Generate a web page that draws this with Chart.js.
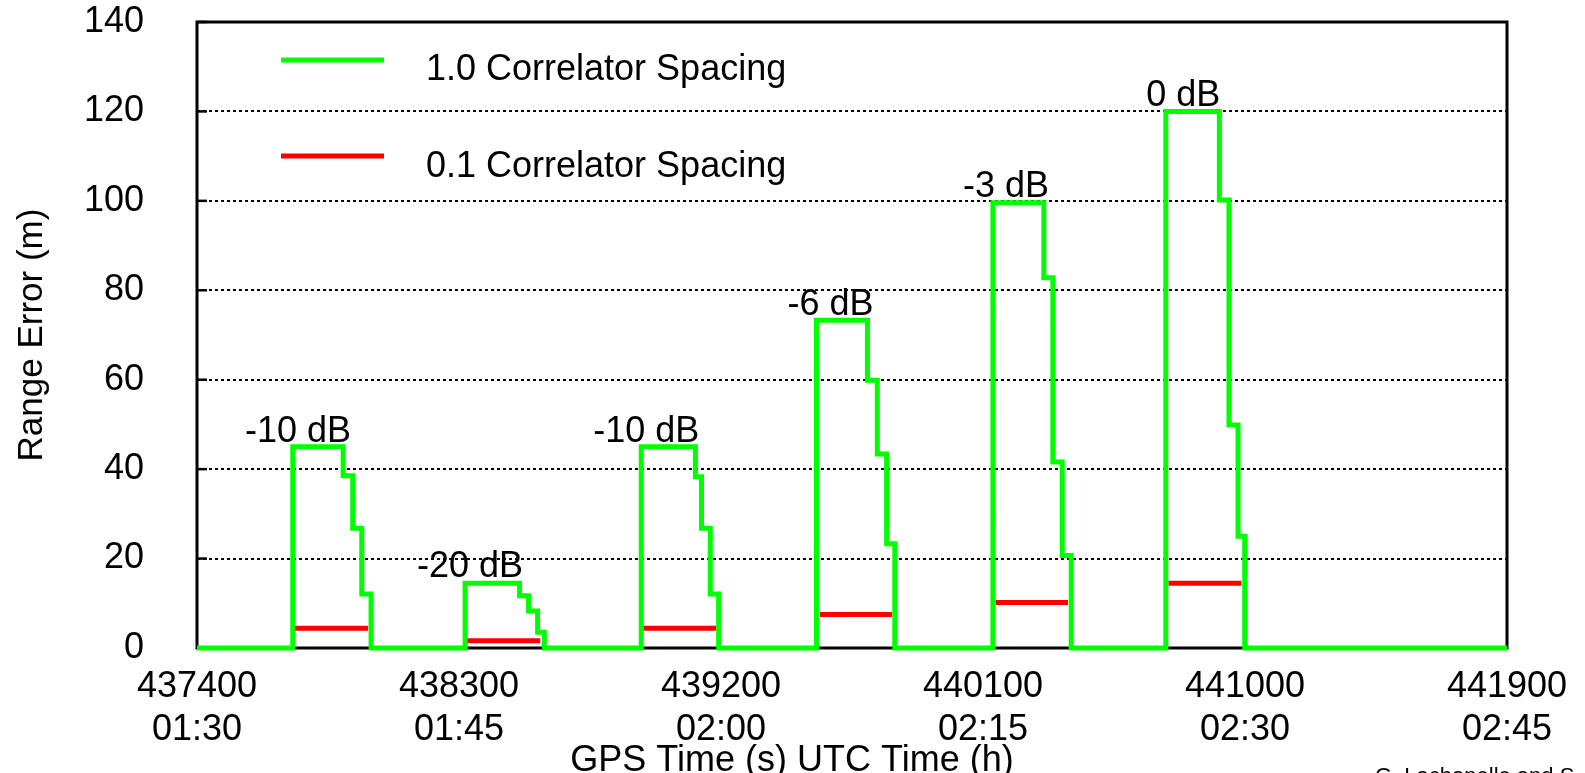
<!DOCTYPE html>
<html>
<head>
<meta charset="utf-8">
<style>
  html, body { margin: 0; padding: 0; background: #fff; }
</style>
</head>
<body>
<canvas id="myChart" width="1585" height="773"></canvas>
<script src="https://cdn.jsdelivr.net/npm/chart.js@4.4.0/dist/chart.umd.min.js"></script>
<script>
  // x axis: GPS seconds, with UTC time as second label line
  const xTicks = [437400, 438300, 439200, 440100, 441000, 441900];
  const utcTicks = ["01:30", "01:45", "02:00", "02:15", "02:30", "02:45"];

  // 1.0 chip spacing: each point is where a new level starts
  const wideTime = [
    437400,
    437729, 437902, 437935, 437966, 437998,
    438321, 438508, 438539, 438570, 438593,
    438926, 439112, 439133, 439163, 439192,
    439528, 439703, 439737, 439769, 439797,
    440134, 440309, 440340, 440372, 440403,
    440728, 440912, 440945, 440976, 440999,
    441900
  ];
  const wideError = [
    0,
    45, 38.5, 26.8, 12.1, 0,
    14.5, 11.7, 8.3, 3.5, 0,
    45, 38.3, 26.8, 12.1, 0,
    73.3, 59.9, 43.4, 23.3, 0,
    99.6, 82.8, 41.6, 20.7, 0,
    120, 100.2, 49.9, 25, 0,
    0
  ];

  // 0.1 chip spacing: flat segments
  const narrowStart = [437730, 438314, 438933, 439539, 440143, 440737];
  const narrowEnd = [437988, 438579, 439184, 439788, 440392, 440988];
  const narrowError = [4.4, 1.6, 4.4, 7.5, 10.2, 14.5];

  // multipath power labels
  const cnoLabels = ["-10 dB", "-20 dB", "-10 dB", "-6 dB", "-3 dB", "0 dB"];
  const cnoTime = [437747, 438338, 438943, 439576, 440179, 440788];
  const cnoError = [46.1, 15.9, 46.1, 74.5, 100.9, 121.3];

  const FONT = '"Liberation Sans", Arial, sans-serif';

  const wideData = wideTime.map((t, i) => ({ x: t, y: wideError[i] }));
  const narrowData = [];
  narrowStart.forEach((s, i) => {
    narrowData.push({ x: s, y: narrowError[i] });
    narrowData.push({ x: narrowEnd[i], y: narrowError[i] });
    narrowData.push({ x: narrowEnd[i], y: null });
  });

  const decor = {
    id: "decor",
    beforeDatasetsDraw(chart) {
      const { ctx, chartArea: a } = chart;
      const y = chart.scales.y;
      ctx.save();
      ctx.strokeStyle = "#000";
      ctx.lineWidth = 3;
      ctx.strokeRect(a.left, a.top, a.right - a.left, a.bottom - a.top);
      // small inward ticks
      ctx.lineWidth = 2.5;
      y.ticks.forEach((t) => {
        const py = y.getPixelForValue(t.value);
        ctx.beginPath();
        ctx.moveTo(a.left, py);
        ctx.lineTo(a.left + 10, py);
        ctx.stroke();
      });
      ctx.restore();
    },
    afterDatasetsDraw(chart) {
      const { ctx } = chart;
      const x = chart.scales.x;
      const y = chart.scales.y;
      ctx.save();
      ctx.fillStyle = "#000";
      ctx.font = "36px " + FONT;
      ctx.textAlign = "center";
      ctx.textBaseline = "alphabetic";
      cnoLabels.forEach((t, i) => {
        ctx.fillText(t, x.getPixelForValue(cnoTime[i]), y.getPixelForValue(cnoError[i]));
      });

      // legend inside the plot
      const ds = chart.data.datasets;
      const rows = [
        { lineY: 60, textY: 80 },
        { lineY: 156, textY: 177 }
      ];
      ctx.textAlign = "left";
      rows.forEach((r, i) => {
        ctx.strokeStyle = ds[i].borderColor;
        ctx.lineWidth = 5;
        ctx.beginPath();
        ctx.moveTo(281, r.lineY);
        ctx.lineTo(384, r.lineY);
        ctx.stroke();
        ctx.fillText(ds[i].label, 426, r.textY);
      });

      // x axis title
      ctx.textAlign = "center";
      ctx.fillText("GPS Time (s) UTC Time (h)", 792, 771);

      // credit, cut by the bottom edge
      ctx.textAlign = "left";
      ctx.font = "22px " + FONT;
      ctx.fillText("G. Lachapelle and S. Ryan", 1375, 783);
      ctx.restore();
    }
  };

  const ctx = document.getElementById("myChart").getContext("2d");
  const myChart = new Chart(ctx, {
    type: "line",
    data: {
      datasets: [
        {
          label: "1.0 Correlator Spacing",
          data: wideData,
          borderColor: "#00ff00",
          borderWidth: 5,
          stepped: true,
          pointRadius: 0,
          borderJoinStyle: "miter",
          clip: false
        },
        {
          label: "0.1 Correlator Spacing",
          data: narrowData,
          borderColor: "#ff0000",
          borderWidth: 5,
          pointRadius: 0,
          spanGaps: false,
          clip: false
        }
      ]
    },
    options: {
      responsive: false,
      animation: false,
      layout: { padding: { left: 0, top: 22, right: 78, bottom: 0 } },
      plugins: {
        legend: { display: false },
        tooltip: { enabled: false }
      },
      scales: {
        x: {
          type: "linear",
          min: 437400,
          max: 441900,
          afterBuildTicks: (axis) => {
            axis.ticks = xTicks.map((v) => ({ value: v }));
          },
          afterFit: (axis) => {
            axis.height = 125;
          },
          ticks: {
            autoSkip: false,
            maxRotation: 0,
            padding: 9,
            color: "#000",
            font: { family: FONT, size: 36, lineHeight: 1.2 },
            callback: function (value) {
              const i = xTicks.indexOf(value);
              return [String(value), utcTicks[i]];
            }
          },
          grid: { display: false },
          border: { display: false }
        },
        y: {
          min: 0,
          max: 140,
          afterFit: (axis) => {
            axis.width = 197;
          },
          ticks: {
            stepSize: 20,
            padding: 3,
            color: "#000",
            font: { family: FONT, size: 36, lineHeight: 1 }
          },
          grid: {
            color: "#000",
            lineWidth: 2,
            drawTicks: true,
            tickLength: 50,
            tickColor: "rgba(0,0,0,0)"
          },
          border: { display: false, dash: [3, 3] },
          title: {
            display: true,
            text: "Range Error (m)",
            color: "#000",
            font: { family: FONT, size: 35, lineHeight: 1 },
            padding: { top: 15, bottom: 0 }
          }
        }
      }
    },
    plugins: [decor]
  });
</script>
</body>
</html>
